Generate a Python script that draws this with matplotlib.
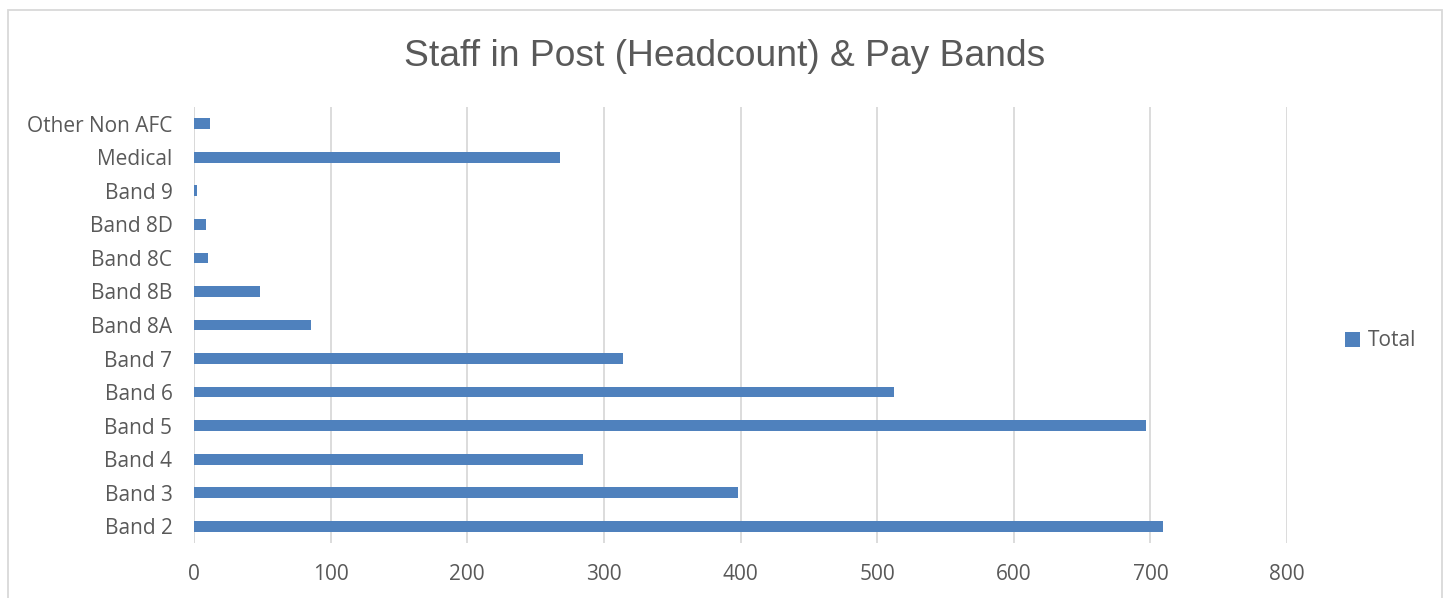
import matplotlib.pyplot as plt
from matplotlib.patches import Rectangle

categories = ['Band 2', 'Band 3', 'Band 4', 'Band 5', 'Band 6', 'Band 7', 'Band 8A',
              'Band 8B', 'Band 8C', 'Band 8D', 'Band 9', 'Medical', 'Other Non AFC']
totals = [709, 398, 285, 697, 512, 314, 86, 48, 10, 9, 2, 268, 12]
x_ticks = [0, 100, 200, 300, 400, 500, 600, 700, 800]

text_color = '#595959'
grid_color = '#d9d9d9'
bar_color = '#4f81bd'

fig = plt.figure(figsize=(14.46, 5.98), dpi=100)
ax = fig.add_axes([194 / 1446, 1 - 543 / 598, (1287 - 194) / 1446, (543 - 107) / 598])

ax.barh(range(len(categories)), totals, height=0.32, color=bar_color, label='Total', zorder=3)
ax.set_xlim(0, 800)
ax.set_ylim(-0.5, len(categories) - 0.5)
ax.set_yticks(range(len(categories)))
ax.set_yticklabels(categories)
ax.set_xticks(x_ticks)
ax.set_xticklabels([str(t) for t in x_ticks])

for spine in ax.spines.values():
    spine.set_visible(False)
ax.xaxis.grid(True, color=grid_color, linewidth=1.3, zorder=0)
ax.axvline(0, color=grid_color, linewidth=1.3, zorder=1)
ax.tick_params(axis='both', length=0, labelsize=15, colors=text_color)
ax.tick_params(axis='x', pad=15)
ax.tick_params(axis='y', pad=15.5)
for lbl in ax.get_xticklabels() + ax.get_yticklabels():
    lbl.set_family('Open Sans')

fig.text(725 / 1446, 1 - 56 / 598, 'Staff in Post (Headcount) & Pay Bands', ha='center', va='center',
         fontsize=26.8, color=text_color, family='Liberation Sans')

leg = ax.legend(loc='center left', bbox_to_anchor=(1326 / 1446, 1 - 341 / 598), bbox_transform=fig.transFigure,
                frameon=False, handlelength=0.75, handleheight=0.75, handletextpad=0.35,
                prop={'family': 'Open Sans', 'size': 15})
for t in leg.get_texts():
    t.set_color(text_color)

# outer chart border
fig.patches.append(Rectangle((8 / 1446, -0.1), (1442 - 8) / 1446, 1 - 10 / 598 + 0.1, transform=fig.transFigure,
                             fill=False, edgecolor=grid_color, linewidth=1.3))

fig.savefig('out.png', dpi=100)
